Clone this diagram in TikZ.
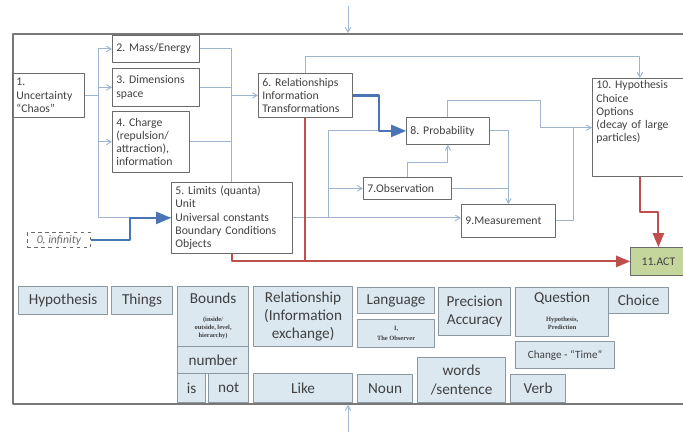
\documentclass[tikz,border=0pt]{standalone}
\usepackage{fontspec}
\setmainfont{Carlito}
\newfontfamily\notefont{Liberation Serif}
\usepackage{tikz}
\usetikzlibrary{arrows}
\frenchspacing
\definecolor{boxgray}{rgb}{0.42,0.42,0.42}
\definecolor{framegray}{rgb}{0.47,0.47,0.47}
\definecolor{txtgray}{rgb}{0.25,0.25,0.25}
\definecolor{wireblue}{rgb}{0.62,0.71,0.81}
\definecolor{flowblue}{rgb}{0.29,0.46,0.71}
\definecolor{actred}{rgb}{0.75,0.31,0.30}
\definecolor{actgreen}{rgb}{0.77,0.84,0.61}
\definecolor{tagblue}{rgb}{0.86,0.91,0.94}
\definecolor{taggray}{rgb}{0.55,0.60,0.64}
\newcommand{\smallstack}[1]{{\notefont\bfseries\fontsize{5.5}{7}\selectfont\begin{tabular}[t]{@{}c@{}}#1\end{tabular}}}

\begin{document}
\begin{tikzpicture}[line join=round,x=0.03cm,y=-0.03cm,>=angle 60,
    box/.style={draw=boxgray,line width=0.7pt,anchor=north west,align=left,inner xsep=0.12cm,inner ysep=2pt,font=\fontsize{10}{11.3}\selectfont,text=txtgray},
    tag/.style={draw=taggray,fill=tagblue,line width=1pt,anchor=north west,align=center,inner sep=1pt,font=\fontsize{13}{15.5}\selectfont,text=txtgray},
    wire/.style={draw=wireblue,line width=0.8pt},
    link/.style={wire,->},
    flow/.style={draw=flowblue,line width=2pt,-triangle 45},
    act/.style={draw=actred,line width=1.8pt}]
\useasboundingbox (0,0) rectangle (683,432);
\clip (0,0) rectangle (683,432);
\node[draw=framegray,line width=1.6pt,anchor=north west,minimum width=20.6cm,minimum height=11.1cm] (panel) at (12,33) {};
\coordinate (inTop) at (348,6);
\coordinate (inBot) at (348,432);
\draw[link] (inTop) -- (inTop|-panel.north);
\draw[link] (inBot) -- (inBot|-panel.south);

\node[box,text width=1.92cm,minimum height=1.32cm] (unc) at (12,73) {1.\\Uncertainty\\“Chaos”};
\node[box,text width=2.37cm,minimum height=0.81cm] (mass) at (112,35) {2. Mass/Energy};
\node[box,text width=2.37cm,minimum height=1.14cm] (dim) at (112,68) {3. Dimensions\\space};
\node[box,text width=2.07cm,minimum height=1.83cm] (charge) at (112,111) {4. Charge\\(repulsion/\\attraction),\\information};
\node[box,text width=3.39cm,minimum height=2.13cm] (lim) at (171,182) {5. Limits (quanta)\\Unit\\Universal constants\\Boundary Conditions\\Objects};
\node[box,text width=2.58cm,minimum height=1.32cm] (rel) at (258,73) {6. Relationships\\Information\\Transformations};
\node[box,text width=2.40cm,minimum height=0.66cm] (obs) at (363,177) {7.Observation};
\node[box,text width=2.25cm,minimum height=0.81cm] (prob) at (406,117) {8. Probability};
\node[box,text width=2.58cm,minimum height=0.99cm] (meas) at (461,204) {9.Measurement};
\node[box,text width=2.61cm,text height=7pt,text depth=73pt] (hyp) at (592,78) {10. Hypothesis\\Choice\\Options\\(decay of large\\particles)};
\node[box,fill=actgreen,align=center,text width=1.44cm,minimum height=0.84cm] (act) at (630,247) {11.ACT};
\node[box,dashed,align=center,inner sep=1pt,minimum width=1.89cm,minimum height=0.45cm,font=\fontsize{10}{11}\selectfont\itshape,text=boxgray] (inf) at (27,232) {0, infinity};

\node[tag,minimum width=2.67cm,minimum height=0.84cm] (hypb) at (18,286) {Hypothesis};
\node[tag,minimum width=1.83cm,minimum height=0.84cm] (things) at (111,286) {Things};
\node[tag,minimum width=2.13cm,minimum height=1.80cm] (bounds) at (177,286) {Bounds\\\smallstack{(inside/\\outside, level,\\hierarchy)}};
\node[tag,minimum width=2.13cm,minimum height=0.81cm] (number) at (177,346) {number};
\node[tag,minimum width=0.84cm,minimum height=0.87cm] (is) at (177,373) {is};
\node[tag,minimum width=1.20cm,minimum height=0.87cm] (not) at (208,373) {not};
\node[tag,minimum width=2.97cm,minimum height=1.80cm] (relb) at (253,286) {Relationship\\(Information\\exchange)};
\node[tag,minimum width=2.97cm,minimum height=0.87cm] (like) at (253,373) {Like};
\node[tag,minimum width=2.31cm,minimum height=0.78cm] (lang) at (357,287) {Language};
\node[tag,minimum width=2.31cm,minimum height=0.84cm] (observer) at (357,319) {\smallstack{I,\\[1.5pt]The Observer}};
\node[tag,minimum width=1.65cm,minimum height=0.84cm] (noun) at (357,374) {Noun};
\node[tag,minimum width=2.16cm,minimum height=1.44cm] (prec) at (438,287) {Precision\\Accuracy};
\node[tag,minimum width=2.64cm,minimum height=1.35cm] (words) at (417,357) {words\\/sentence};
\node[tag,minimum width=2.79cm,minimum height=1.47cm] (quest) at (515,287) {Question\\\smallstack{Hypothesis,\\Prediction}};
\node[tag,minimum width=1.80cm,minimum height=0.78cm] (choice) at (608,287) {Choice};
\node[tag,minimum width=2.97cm,minimum height=0.81cm,font=\fontsize{9.5}{11}\selectfont] (change) at (515,341) {Change - “Time”};
\node[tag,minimum width=1.65cm,minimum height=0.84cm] (verb) at (510,374) {Verb};

\coordinate (tA) at (98,0);
\coordinate (kB) at (130,0);
\coordinate (kC) at (379,0);
\coordinate (kD) at (0,56);
\coordinate (kE) at (540,100);
\coordinate (kF) at (573,0);
\coordinate (kG) at (0,162);
\coordinate (kH) at (328,0);
\coordinate (kI) at (0,212);

\draw[wire] (unc.east) -- (tA|-unc.east);
\draw[wire] (tA|-mass.west) |- (lim.west);
\draw[link] (tA|-mass.west) -- (mass.west);
\draw[link] (tA|-dim.west) -- (dim.west);
\draw[link] (tA|-charge.west) -- (charge.west);
\draw[flow] (inf.east) -| (kB|-lim.west) -- (lim.west);

\draw[wire] (mass.east) -| (lim.north);
\draw[wire] (dim.east) -- (lim.north|-dim.east);
\draw[wire] (charge.east) -- (lim.north|-charge.east);
\draw[link] (lim.north|-rel.west) -- (rel.west);

\draw[link] (rel.north) -- (rel.north|-kD) -| (hyp.north);
\draw[link] (prob.north) |- (kE) |- (hyp.west);
\draw[wire] (meas.east) -| (kF|-hyp.west);
\draw[link] (prob.east) -| (meas.north);
\draw[wire] (obs.east) -- (meas.north|-obs.east);
\draw[link] (obs.north) -- (obs.north|-kG) -| (prob.south);
\draw[link] (lim.east) -- (lim.east-|meas.west);
\draw[wire] (kH|-lim.east) |- (kC|-prob.west);
\draw[link] (kH|-obs.west) -- (obs.west);
\draw[flow] (rel.east) -| (kC|-prob.west) -- (prob.west);

\draw[act] (rel.south) -- (rel.south|-act.west);
\draw[act,-triangle 45] (lim.south) |- (act.west);
\draw[act,-triangle 45] (hyp.south) -- (hyp.south|-kI) -| (act.north);
\end{tikzpicture}
\end{document}
